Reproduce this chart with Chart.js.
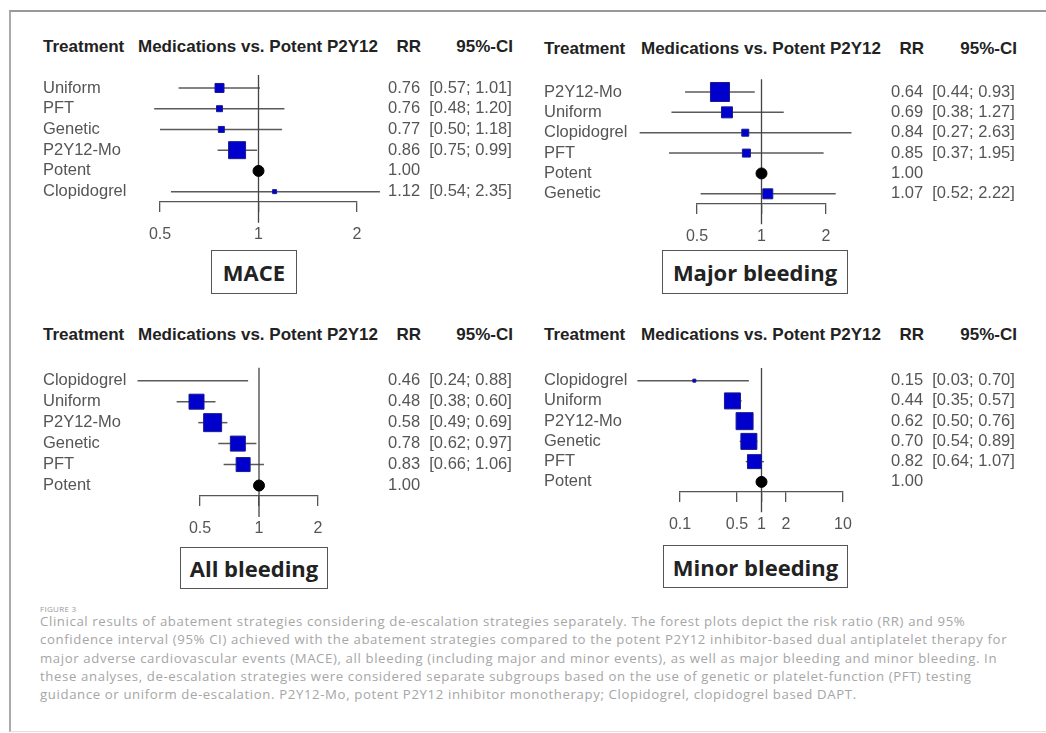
<!DOCTYPE html>
<html>
<head>
<meta charset="utf-8">
<script src="https://cdn.jsdelivr.net/npm/chart.js@4.4.1/dist/chart.umd.min.js"></script>
<style>
  body { margin: 0; background: #fff; width: 1046px; height: 733px; position: relative; overflow: hidden; font-family: 'Liberation Sans', Arial, sans-serif; }
  .frame { position: absolute; left: 9px; top: 10px; width: 1060px; height: 719px; border-left: 2px solid #aaa; border-top: 2px solid #999; border-bottom: 1px solid #e2e2e2; }
  canvas { position: absolute; }
  .hdr { position: absolute; font-weight: bold; font-size: 17px; line-height: 20px; color: #222; white-space: nowrap; }
  .title { position: absolute; box-sizing: border-box; border: 1.5px solid #555; background: #fff; font-family: 'Open Sans', sans-serif; font-weight: bold; font-size: 22px; color: #222; display: flex; align-items: center; justify-content: center; }
  .figno { position: absolute; left: 40px; top: 603px; font-family: 'Open Sans', sans-serif; font-size: 8px; color: #999; letter-spacing: 0.3px; }
  .cap { position: absolute; left: 40px; font-family: 'Open Sans', sans-serif; font-size: 13.2px; letter-spacing: 0.62px; color: #a6a6a6; white-space: nowrap; }
</style>
</head>
<body>
<div class="frame"></div>

<script>
// ---- data ----
const maceNames = ['Uniform', 'PFT', 'Genetic', 'P2Y12-Mo', 'Potent', 'Clopidogrel'];
const maceRR = [0.76, 0.76, 0.77, 0.86, 1.00, 1.12];
const maceLo = [0.57, 0.48, 0.50, 0.75, null, 0.54];
const maceHi = [1.01, 1.20, 1.18, 0.99, null, 2.35];

const majorNames = ['P2Y12-Mo', 'Uniform', 'Clopidogrel', 'PFT', 'Potent', 'Genetic'];
const majorRR = [0.64, 0.69, 0.84, 0.85, 1.00, 1.07];
const majorLo = [0.44, 0.38, 0.27, 0.37, null, 0.52];
const majorHi = [0.93, 1.27, 2.63, 1.95, null, 2.22];

const allNames = ['Clopidogrel', 'Uniform', 'P2Y12-Mo', 'Genetic', 'PFT', 'Potent'];
const allRR = [0.46, 0.48, 0.58, 0.78, 0.83, 1.00];
const allLo = [0.24, 0.38, 0.49, 0.62, 0.66, null];
const allHi = [0.88, 0.60, 0.69, 0.97, 1.06, null];

const minorNames = ['Clopidogrel', 'Uniform', 'P2Y12-Mo', 'Genetic', 'PFT', 'Potent'];
const minorRR = [0.15, 0.44, 0.62, 0.70, 0.82, 1.00];
const minorLo = [0.03, 0.35, 0.50, 0.54, 0.64, null];
const minorHi = [0.70, 0.57, 0.76, 0.89, 1.07, null];

const stdTicks = [0.5, 1, 2];
const minorTicks = [0.1, 0.5, 1, 2, 10];

// ---- marker box sizes (px), kept apart from the data ----
const maceBox = [9, 6, 6, 17, 11, 4];
const majorBox = [19, 11, 7, 8, 11, 10];
const allBox = [4, 15, 18, 15, 14, 11];
const minorBox = [3, 16, 17, 16, 14, 11];

const headers = ['Treatment', 'Medications vs. Potent P2Y12', 'RR', '95%-CI'];
const titles = ['MACE', 'Major bleeding', 'All bleeding', 'Minor bleeding'];

Chart.defaults.font.family = "'Liberation Sans', Arial, sans-serif";

const panels = [
  { names: maceNames, rr: maceRR, lo: maceLo, hi: maceHi, box: maceBox, ticks: stdTicks, min: 0.5, max: 2,
    geo: { labelX: 43, plotL: 160, plotR: 357, valueX: 388, row0: 88, step: 20.8, hdrY: 37, medX: 138, rrR: 421, ciR: 513 },
    title: { x: 211, y: 250, w: 86, h: 44 } },
  { names: majorNames, rr: majorRR, lo: majorLo, hi: majorHi, box: majorBox, ticks: stdTicks, min: 0.5, max: 2,
    geo: { labelX: 544, plotL: 697, plotR: 826, valueX: 891, row0: 92, step: 20.4, hdrY: 39, medX: 641, rrR: 924, ciR: 1017 },
    title: { x: 662, y: 250, w: 186, h: 44 } },
  { names: allNames, rr: allRR, lo: allLo, hi: allHi, box: allBox, ticks: stdTicks, min: 0.5, max: 2,
    geo: { labelX: 43, plotL: 200, plotR: 318, valueX: 388, row0: 380.7, step: 20.9, hdrY: 325, medX: 138, rrR: 421, ciR: 513 },
    title: { x: 180, y: 547, w: 148, h: 42 } },
  { names: minorNames, rr: minorRR, lo: minorLo, hi: minorHi, box: minorBox, ticks: minorTicks, min: 0.1, max: 10,
    geo: { labelX: 544, plotL: 680, plotR: 843, valueX: 891, row0: 380.7, step: 20.3, hdrY: 325, medX: 641, rrR: 924, ciR: 1017 },
    title: { x: 663, y: 545, w: 185, h: 43 } }
];

// vertical line at RR = 1, in row units
const refTop = -0.62;
const refBottom = 6.5;

function valueText(p, i) {
  let s = p.rr[i].toFixed(2);
  if (p.lo[i] !== null) {
    s += '  [' + p.lo[i].toFixed(2) + '; ' + p.hi[i].toFixed(2) + ']';
  }
  return s;
}

function addDiv(cls, text, css) {
  const d = document.createElement('div');
  d.className = cls;
  d.textContent = text;
  Object.assign(d.style, css);
  document.body.appendChild(d);
  return d;
}

function makePanel(p) {
  const g = p.geo;
  const axisH = 45, padBottom = 6;
  const left = g.labelX;
  const right = g.valueX + 140;
  const top = Math.round(g.row0 - g.step / 2 - 20);
  const padTop = g.row0 - g.step / 2 - top;
  const height = Math.round(padTop + 6 * g.step + axisH + padBottom);

  const canvas = document.createElement('canvas');
  canvas.width = right - left;
  canvas.height = height;
  canvas.style.left = left + 'px';
  canvas.style.top = top + 'px';
  document.body.appendChild(canvas);

  const datasets = [];
  // squares / circle
  datasets.push({
    data: p.rr.map((v, i) => ({ x: v, y: i })),
    pointStyle: p.names.map(n => n === 'Potent' ? 'circle' : 'rect'),
    pointRadius: p.names.map((n, i) => n === 'Potent' ? p.box[i] / 2 : p.box[i] / Math.SQRT2),
    backgroundColor: p.names.map(n => n === 'Potent' ? '#000' : '#0000cc'),
    borderColor: p.names.map(n => n === 'Potent' ? '#000' : '#1a1a90'),
    borderWidth: 1,
    showLine: false,
    clip: false,
    order: 0
  });
  // confidence intervals
  p.rr.forEach((v, i) => {
    if (p.lo[i] === null) return;
    datasets.push({
      data: [{ x: p.lo[i], y: i }, { x: p.hi[i], y: i }],
      showLine: true,
      borderColor: '#5a5a5a',
      borderWidth: 1.5,
      pointRadius: 0,
      clip: false,
      order: 2
    });
  });
  // reference line at 1
  datasets.push({
    data: [{ x: 1, y: refTop }, { x: 1, y: refBottom }],
    showLine: true,
    borderColor: '#444',
    borderWidth: 1.3,
    pointRadius: 0,
    clip: false,
    order: 1
  });

  new Chart(canvas, {
    type: 'scatter',
    data: { datasets: datasets },
    options: {
      responsive: false,
      animation: false,
      events: [],
      layout: { padding: { left: 0, right: 0, top: padTop, bottom: padBottom } },
      plugins: { legend: { display: false }, tooltip: { enabled: false } },
      scales: {
        x: {
          type: 'logarithmic',
          position: 'bottom',
          min: p.min,
          max: p.max,
          afterBuildTicks: s => { s.ticks = p.ticks.map(v => ({ value: v })); },
          afterFit: s => { s.height = axisH; s.paddingLeft = 0; s.paddingRight = 0; },
          ticks: { autoSkip: false, maxRotation: 0, padding: 13, color: '#555', font: { size: 16 }, callback: v => String(v) },
          grid: { display: true, drawOnChartArea: false, drawTicks: true, tickLength: 10, color: '#555', lineWidth: 1.3 },
          border: { display: true, color: '#555', width: 1.3 }
        },
        y: {
          type: 'linear',
          position: 'left',
          reverse: true,
          min: -0.5,
          max: 5.5,
          afterBuildTicks: s => { s.ticks = p.names.map((n, i) => ({ value: i })); },
          afterFit: s => { s.width = g.plotL - g.labelX; s.paddingTop = 0; s.paddingBottom = 0; },
          ticks: { autoSkip: false, crossAlign: 'far', color: '#555', font: { size: 16.5 }, callback: v => p.names[v] },
          grid: { display: false, drawTicks: false },
          border: { display: false }
        },
        yv: {
          type: 'linear',
          position: 'right',
          reverse: true,
          min: -0.5,
          max: 5.5,
          afterBuildTicks: s => { s.ticks = p.names.map((n, i) => ({ value: i })); },
          afterFit: s => { s.width = right - g.plotR; s.paddingTop = 0; s.paddingBottom = 0; },
          ticks: { autoSkip: false, crossAlign: 'near', padding: g.valueX - g.plotR, color: '#555', font: { size: 16.5 }, callback: v => valueText(p, v) },
          grid: { display: false, drawTicks: false },
          border: { display: false }
        }
      }
    }
  });

  // column headers
  addDiv('hdr', headers[0], { left: g.labelX + 'px', top: g.hdrY + 'px' });
  addDiv('hdr', headers[1], { left: g.medX + 'px', top: g.hdrY + 'px' });
  addDiv('hdr', headers[2], { left: (g.rrR - 60) + 'px', top: g.hdrY + 'px', width: '60px', textAlign: 'right' });
  addDiv('hdr', headers[3], { left: (g.ciR - 100) + 'px', top: g.hdrY + 'px', width: '100px', textAlign: 'right' });
}

panels.forEach((p, k) => {
  makePanel(p);
  const t = p.title;
  addDiv('title', titles[k], { left: t.x + 'px', top: t.y + 'px', width: t.w + 'px', height: t.h + 'px' });
});

// caption
const captionLines = [
  'Clinical results of abatement strategies considering de-escalation strategies separately. The forest plots depict the risk ratio (RR) and 95%',
  'confidence interval (95% CI) achieved with the abatement strategies compared to the potent P2Y12 inhibitor-based dual antiplatelet therapy for',
  'major adverse cardiovascular events (MACE), all bleeding (including major and minor events), as well as major bleeding and minor bleeding. In',
  'these analyses, de-escalation strategies were considered separate subgroups based on the use of genetic or platelet-function (PFT) testing',
  'guidance or uniform de-escalation. P2Y12-Mo, potent P2Y12 inhibitor monotherapy; Clopidogrel, clopidogrel based DAPT.'
];
addDiv('figno', 'FIGURE 3', {});
captionLines.forEach((line, i) => {
  addDiv('cap', line, { top: (612 + i * 18.3) + 'px' });
});
</script>
</body>
</html>
